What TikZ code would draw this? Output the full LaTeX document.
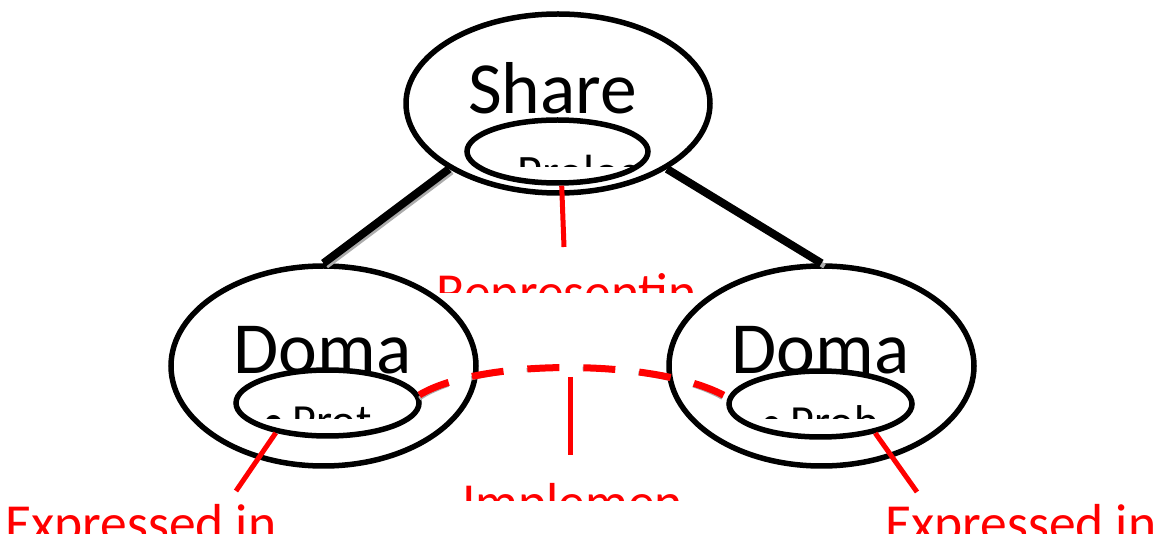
\documentclass[tikz,border=0pt]{standalone}
\usepackage{fontspec}
\setmainfont{Carlito}
\usetikzlibrary{shapes.geometric}
\begin{document}
\begin{tikzpicture}[x=1pt,y=-1pt,
  oval/.style={draw=black, line width=5.5pt, ellipse, inner sep=0pt},
  bigtext/.style={font=\fontsize{73.5}{88}\selectfont, anchor=base west, inner sep=0pt},
  innertext/.style={font=\fontsize{46}{56}\selectfont, anchor=base west, inner sep=0pt},
  toptext/.style={font=\fontsize{48}{58}\selectfont, anchor=base west, inner sep=0pt},
  lbl/.style={font=\fontsize{53.5}{64}\selectfont, text=red, anchor=base west, inner sep=0pt},
  conn/.style={line width=8pt, black},
  connshadow/.style={line width=5pt, gray!65},
  redline/.style={line width=5pt, red},
  reddash/.style={line width=7pt, red, dash pattern=on 32pt off 24pt},
  dashshadow/.style={line width=4pt, gray!65, dash pattern=on 32pt off 24pt},
]
\useasboundingbox[fill=white] (0,0) rectangle (1160,534);

% ellipses
\node[oval, minimum width=304pt, minimum height=179pt] (top) at (558,103.5) {};
\node[oval, minimum width=181pt, minimum height=63pt] (topin) at (557.5,151.5) {};
\node[oval, minimum width=305pt, minimum height=200pt] (left) at (323.5,366) {};
\node[oval, minimum width=183pt, minimum height=66pt] (lin) at (327.5,403) {};
\node[oval, minimum width=305pt, minimum height=200pt] (right) at (821.5,366) {};
\node[oval, minimum width=183pt, minimum height=66pt] (rin) at (820.5,404) {};

% texts
\node[bigtext] (share) at (468,113.5) {Share};
\node[bigtext] (domal) at (233.5,373.5) {Doma};
\node[bigtext] (domar) at (731.5,373.5) {Doma};

\begin{scope}
  \clip (470,140) rectangle (650,167);
  \node[toptext] (topsub) at (517,189) {Prolog};
\end{scope}
\begin{scope}
  \clip (240,395) rectangle (415,419);
  \node[innertext] (lsub) at (262,437) {•\,Prot};
\end{scope}
\begin{scope}
  \clip (735,395) rectangle (910,419);
  \node[innertext] (rsub) at (760,438) {•\,Prob};
\end{scope}

% black connectors with shadow
\draw[connshadow] ([shift={(3,3)}]top.211) -- ([shift={(3,3)}]left.90);
\draw[conn] (top.211) -- (left.90);
\draw[connshadow] ([shift={(3,3)}]top.329) -- ([shift={(3,3)}]right.90);
\draw[conn] (top.329) -- (right.90);

% dashed red arc with shadow
\draw[dashshadow] ([shift={(0,3.5)}]lin.5) .. controls (480,358) and (660,358) .. ([shift={(0,3.5)}]rin.176);
\draw[reddash] (lin.5) .. controls (480,358) and (660,358) .. (rin.176);

% red callout lines
\coordinate (rp) at (564,247);
\draw[redline] (topin.-83) -- (rp);
\coordinate (m1) at (570,377);
\coordinate (m2) at (570,455);
\draw[redline] (m1) -- (m2);
\coordinate (le) at (236,491);
\draw[redline] (lin.210) -- (le);
\coordinate (re) at (917,492);
\draw[redline] (rin.-28) -- (re);

% red labels (clipped as in the reference)
\begin{scope}
  \clip (420,260) rectangle (720,293);
  \node[lbl] (repr) at (436,311) {Representin};
\end{scope}
\begin{scope}
  \clip (440,470) rectangle (720,501);
  \node[lbl] (impl) at (462,521) {Implemen};
\end{scope}
\begin{scope}
  \clip (0,495) rectangle (1160,534);
  \node[lbl] (expl) at (5,541) {Expressed in};
  \node[lbl] (expr) at (885,541) {Expressed in};
\end{scope}
\end{tikzpicture}
\end{document}
